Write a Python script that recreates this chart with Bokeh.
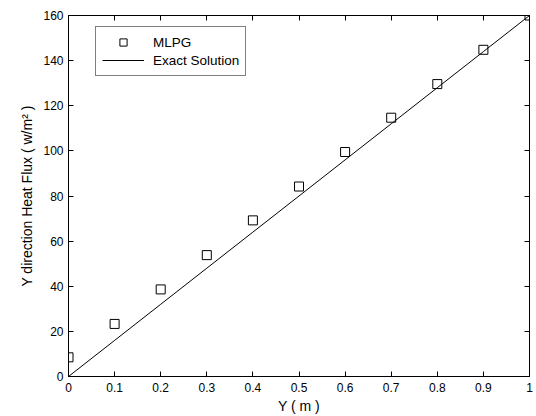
from bokeh.plotting import figure
from bokeh.models import FixedTicker, LinearAxis, Range1d, Legend, LegendItem
from bokeh.embed import file_html
from bokeh.resources import INLINE

# Data
y_pos = [0.0, 0.1, 0.2, 0.3, 0.4, 0.5, 0.6, 0.7, 0.8, 0.9, 1.0]
flux_mlpg = [8.5, 23.3, 38.6, 53.8, 69.2, 84.2, 99.5, 114.7, 129.6, 144.8, 160.0]
y_exact = [0.0, 0.1, 0.2, 0.3, 0.4, 0.5, 0.6, 0.7, 0.8, 0.9, 1.0]
flux_exact = [0.0, 16.0, 32.0, 48.0, 64.0, 80.0, 96.0, 112.0, 128.0, 144.0, 160.0]
x_ticks = [0, 0.1, 0.2, 0.3, 0.4, 0.5, 0.6, 0.7, 0.8, 0.9, 1]
y_ticks = [0, 20, 40, 60, 80, 100, 120, 140, 160]

FONT = "Liberation Sans"

p = figure(width=536, height=416, output_backend="svg", toolbar_location=None,
           x_range=Range1d(0, 1), y_range=Range1d(0, 160),
           min_border_left=68, min_border_right=7, min_border_top=15, min_border_bottom=39)
p.background_fill_color = "white"
p.border_fill_color = "white"
p.outline_line_color = "black"
p.outline_line_width = 1
p.grid.visible = False

line = p.line(y_exact, flux_exact, line_color="black", line_width=1)
pts = p.scatter(y_pos, flux_mlpg, marker="square", size=9, fill_color=None,
                line_color="black", line_width=1)

def style(ax, labels=True):
    ax.axis_line_color = "black"
    ax.major_tick_in = 5
    ax.major_tick_out = 0
    ax.minor_tick_line_color = None
    ax.major_tick_line_color = "black"
    ax.major_label_text_font = FONT
    ax.major_label_text_font_size = "12px"
    ax.major_label_text_color = "black" if labels else None
    ax.axis_label_text_font = FONT
    ax.axis_label_text_font_size = "14px"
    ax.axis_label_text_font_style = "normal"
    ax.axis_label_text_color = "black"

p.xaxis.ticker = FixedTicker(ticks=x_ticks)
p.yaxis.ticker = FixedTicker(ticks=y_ticks)
p.xaxis.axis_label = "Y ( m )"
p.yaxis.axis_label = "Y direction Heat Flux ( w/m² )"
style(p.xaxis[0])
style(p.yaxis[0])
p.xaxis.major_label_standoff = 6
p.yaxis.major_label_standoff = 5
p.xaxis.axis_label_standoff = 3
p.yaxis.axis_label_standoff = 5

top = LinearAxis(ticker=FixedTicker(ticks=x_ticks))
style(top, labels=False)
top.major_label_text_font_size = "0px"
top.major_label_standoff = 0
right = LinearAxis(ticker=FixedTicker(ticks=y_ticks))
style(right, labels=False)
right.major_label_text_font_size = "0px"
right.major_label_standoff = 0
p.add_layout(top, "above")
p.add_layout(right, "right")

legend = Legend(items=[LegendItem(label="MLPG", renderers=[pts]),
                       LegendItem(label="Exact Solution", renderers=[line])],
                location=(27, 300))
legend.border_line_color = "black"
legend.border_line_width = 1
legend.background_fill_color = "white"
legend.label_text_font = FONT
legend.label_text_font_size = "13.5px"
legend.label_text_color = "black"
legend.padding = 6
legend.spacing = 0
legend.margin = 0
legend.glyph_width = 42
legend.glyph_height = 18
legend.label_height = 18
legend.label_standoff = 9
p.add_layout(legend, "center")

open("out.html", "w").write(file_html(p, INLINE))
